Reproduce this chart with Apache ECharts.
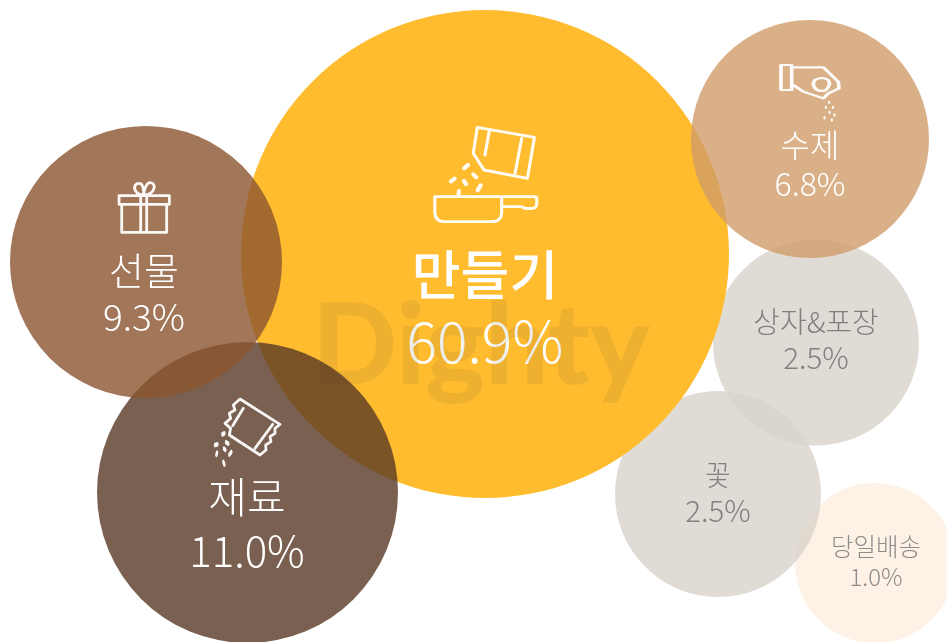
<!DOCTYPE html>
<html><head><meta charset="utf-8">
<style>html,body{margin:0;padding:0;background:#fff}#c{width:947px;height:642px}</style>
<script src="https://cdn.jsdelivr.net/npm/echarts@6/dist/echarts.min.js"></script>
</head><body><div id="c"></div>
<script>
// listed in drawing order: later bubbles lie on top
const categories = ['당일배송','꽃','상자&포장','만들기','수제','재료','선물'];
const shares = [1.0, 2.5, 2.5, 60.9, 6.8, 11.0, 9.3];
const bubbleX = [875, 718, 816, 485, 810, 247.5, 146];
const bubbleY = [563, 494, 342.5, 254, 139, 492.5, 262];
const bubbleDiameter = [160, 206, 206, 488, 238, 301, 272];
const bubbleColors = ['#FEEDDF','#D8D3CB','#D8D3CB','#FFBC2F','#D09C6A','#593824','#8B552F'];
const bubbleAlpha = [.8, .8, .8, 1, .8, .8, .8];

const labelX = [876, 718, 816, 485, 810, 247, 144];
const labelY = [562, 493, 340, 308, 164, 524, 294];
const labelStyle = [
  {n:24.5,v:24,lh:30,c:'#8c8c8c',w:300},
  {n:28,v:29.5,lh:36,c:'#808080',w:300},
  {n:29,v:29.5,lh:36,c:'#808080',w:300},
  {n:53,v:57,lh:67,c:'#fff',w:500},
  {n:32,v:32,lh:39,c:'#fff',w:300},
  {n:42,v:42,lh:54,c:'#fff',w:300},
  {n:38,v:37,lh:46,c:'#fff',w:300}
];

const iconPaths = [
 'path://M105 260H405 M232 52L403 82L382 205L252 180L220 130Z M268 62L255 135 M365 85L345 190 M105 260V305Q105 335 135 335H275Q305 335 305 305V262 M305 290H365Q372 297 400 295Q410 292 410 280V262H405',
 'path://M63 45H95V120H63Z M95 52H190L235 95L237 115L205 130L190 145L130 125L100 105H95 M165 90Q185 78 205 90Q215 105 195 122Q175 125 165 115Q155 100 165 90Z',
 'path://M57 77H208V103H57Z M65 103V187H200V103 M122 77V187 M140 77V187 M131 75C100 75 95 40 118 40C130 40 131 60 131 75C131 60 140 38 150 38C172 38 165 75 131 75Z',
 'path://M120 42L240 118L225 130L225 145L210 155L213 170L197 180L198 195L180 210L88 150L92 130L75 115L92 100L88 85L105 75L100 60Z M130 70L98 122 M218 118L165 190',
 'path://M193 175L204 165 M153 214L164 206 M192 213L198 222 M220 193L229 202 M233 241L242 226 M176 252L177 243',
 'path://M207 157h1 M197 172h1 M218 172h1 M208 187h1 M223 195h1 M193 203h1 M215 210h1',
 'path://M67 148L73 145 M45 180L52 178 M78 172L85 176 M72 191L76 195 M49 209L51 203 M88 209L94 201 M70 231L73 239'
];
const iconX = [485.8, 810, 144.2, 252.5, 465.8, 829.5, 223.2];
const iconY = [174.5, 81.7, 207.5, 427, 179.5, 111.2, 449];
const iconSize = [[102,94.3],[58,33.3],[50.3,49.7],[55,56],[29.7,29],[10.3,17.7],[16.3,31.3]];
const iconStroke = [3, 2.8, 2.8, 2.8, 4.2, 2.6, 3.4];

const chart = echarts.init(document.getElementById('c'), null, {renderer:'canvas'});
chart.setOption({
  animation:false,
  backgroundColor:'#fff',
  grid:{left:0,right:0,top:0,bottom:0},
  xAxis:{type:'value',min:0,max:947,show:false},
  yAxis:{type:'value',min:0,max:642,inverse:true,show:false},
  graphic:[{
    type:'text', left:312, top:292, z:100, silent:true,
    style:{text:'Dighty',fontFamily:'Lato',fontWeight:900,fontSize:112,fill:'rgba(70,60,60,0.09)'}
  }],
  series:[
    {type:'scatter',z:2,silent:true,
     data:categories.map((n,i)=>({name:n,value:[bubbleX[i],bubbleY[i]],symbolSize:bubbleDiameter[i],
       itemStyle:{color:bubbleColors[i],opacity:bubbleAlpha[i]}}))},
    {type:'scatter',z:3,silent:true,
     data:iconPaths.map((p,i)=>({value:[iconX[i],iconY[i]],symbol:p,symbolSize:iconSize[i],
       itemStyle:{color:'transparent',borderColor:'#fff',borderWidth:iconStroke[i],borderCap:'round',borderJoin:'round',opacity:.95}}))},
    {type:'scatter',z:4,silent:true,symbolSize:1,itemStyle:{color:'transparent',opacity:1},
     data:categories.map((n,i)=>{const s=labelStyle[i];return {value:[labelX[i],labelY[i]],
       label:{show:true,position:'inside',opacity:1,
         formatter:'{n|'+n+'}\n{v|'+shares[i].toFixed(1)+'%}',
         rich:{n:{fontFamily:'Noto Sans CJK KR',fontSize:s.n,fontWeight:s.w,color:s.c,lineHeight:s.lh,align:'center'},
               v:{fontFamily:'Noto Sans CJK KR',fontSize:s.v,fontWeight:300,color:s.c,lineHeight:s.lh,align:'center'}}}}})}
  ]
});
</script></body></html>
